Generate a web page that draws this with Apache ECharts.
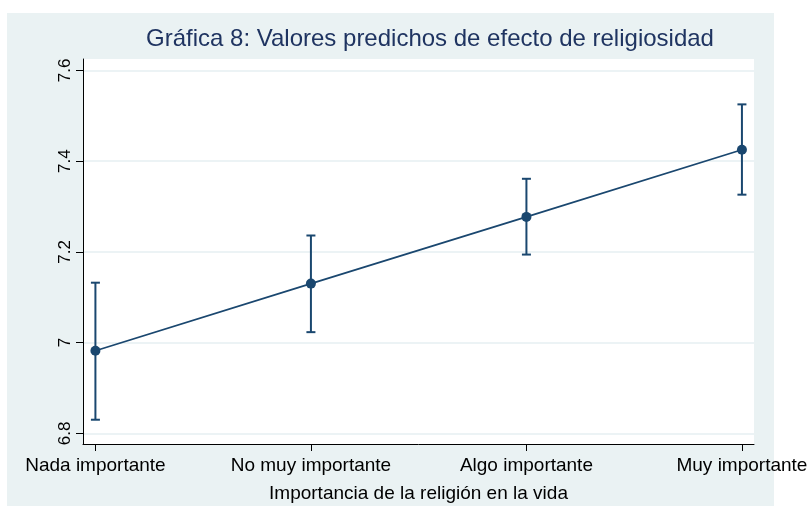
<!DOCTYPE html>
<html>
<head>
<meta charset="utf-8">
<script src="https://cdn.jsdelivr.net/npm/echarts@6/dist/echarts.min.js"></script>
<style>
  html, body { margin: 0; padding: 0; background: #ffffff; }
  #chart { width: 811px; height: 508px; }
</style>
</head>
<body>
<div id="chart"></div>
<script>
// Categories on the x axis
const categories = ['Nada importante', 'No muy importante', 'Algo importante', 'Muy importante'];
// Predicted values and their confidence bounds
const predicted = [6.982, 7.130, 7.277, 7.425];
const lowerCI = [6.830, 7.023, 7.194, 7.326];
const upperCI = [7.132, 7.236, 7.361, 7.525];
// Y axis tick values
const yTicks = [6.8, 7.0, 7.2, 7.4, 7.6];
const xTicks = [0, 1, 2, 3];

const navy = '#1a476f';
const fontFam = '"Liberation Sans", Arial, sans-serif';

const chart = echarts.init(document.getElementById('chart'), null, { renderer: 'canvas' });

const meanData = predicted.map((v, i) => [i, v]);
const ciData = predicted.map((v, i) => [i, lowerCI[i], upperCI[i]]);

chart.setOption({
  backgroundColor: '#ffffff',
  animation: false,
  graphic: [{
    type: 'rect',
    z: -10,
    shape: { x: 7, y: 13, width: 767, height: 493 },
    style: { fill: '#eaf2f3' },
    silent: true
  }],
  title: {
    text: 'Gráfica 8: Valores predichos de efecto de religiosidad',
    left: 425,
    top: 22,
    textAlign: 'center',
    textStyle: { fontFamily: fontFam, fontSize: 24, fontWeight: 'normal', color: '#1f3461' }
  },
  grid: {
    left: 83, right: 57, top: 59, bottom: 63,
    show: true, backgroundColor: '#ffffff', borderWidth: 0
  },
  xAxis: {
    type: 'value',
    min: -0.0576,
    max: 3.056,
    name: 'Importancia de la religión en la vida',
    nameLocation: 'middle',
    nameGap: 40,
    nameTextStyle: { fontFamily: fontFam, fontSize: 19, color: '#000' },
    axisLine: { show: true, onZero: false, lineStyle: { color: '#000', width: 1 } },
    axisTick: { show: true, length: 7, customValues: xTicks, lineStyle: { color: '#000' } },
    axisLabel: {
      customValues: xTicks,
      margin: 12,
      fontFamily: fontFam, fontSize: 19, color: '#000',
      formatter: v => categories[Math.round(v)] || ''
    },
    splitLine: { show: false }
  },
  yAxis: {
    type: 'value',
    min: 6.7765,
    max: 7.625,
    axisLine: { show: true, onZero: false, lineStyle: { color: '#000', width: 1 } },
    axisTick: { show: true, length: 7, customValues: yTicks, lineStyle: { color: '#000' } },
    axisLabel: {
      customValues: yTicks,
      rotate: 90,
      margin: 9,
      fontFamily: fontFam, fontSize: 17, color: '#000',
      formatter: v => (Math.abs(v - 7) < 1e-9 ? '7' : v.toFixed(1))
    },
    splitLine: { show: true, lineStyle: { color: '#e6eff2', width: 1.5 } }
  },
  series: [
    {
      type: 'custom',
      name: 'IC',
      data: ciData,
      z: 2,
      renderItem: function (params, api) {
        const x = api.value(0);
        const lo = api.coord([x, api.value(1)]);
        const hi = api.coord([x, api.value(2)]);
        const half = 4.5;
        const style = { stroke: navy, lineWidth: 2 };
        return {
          type: 'group',
          children: [
            { type: 'line', shape: { x1: lo[0], y1: lo[1], x2: hi[0], y2: hi[1] }, style },
            { type: 'line', shape: { x1: lo[0] - half, y1: lo[1], x2: lo[0] + half, y2: lo[1] }, style },
            { type: 'line', shape: { x1: hi[0] - half, y1: hi[1], x2: hi[0] + half, y2: hi[1] }, style }
          ]
        };
      }
    },
    {
      type: 'line',
      name: 'Predicho',
      data: meanData,
      z: 3,
      symbol: 'circle',
      symbolSize: 10,
      lineStyle: { color: navy, width: 1.8 },
      itemStyle: { color: navy }
    }
  ]
});
</script>
</body>
</html>
